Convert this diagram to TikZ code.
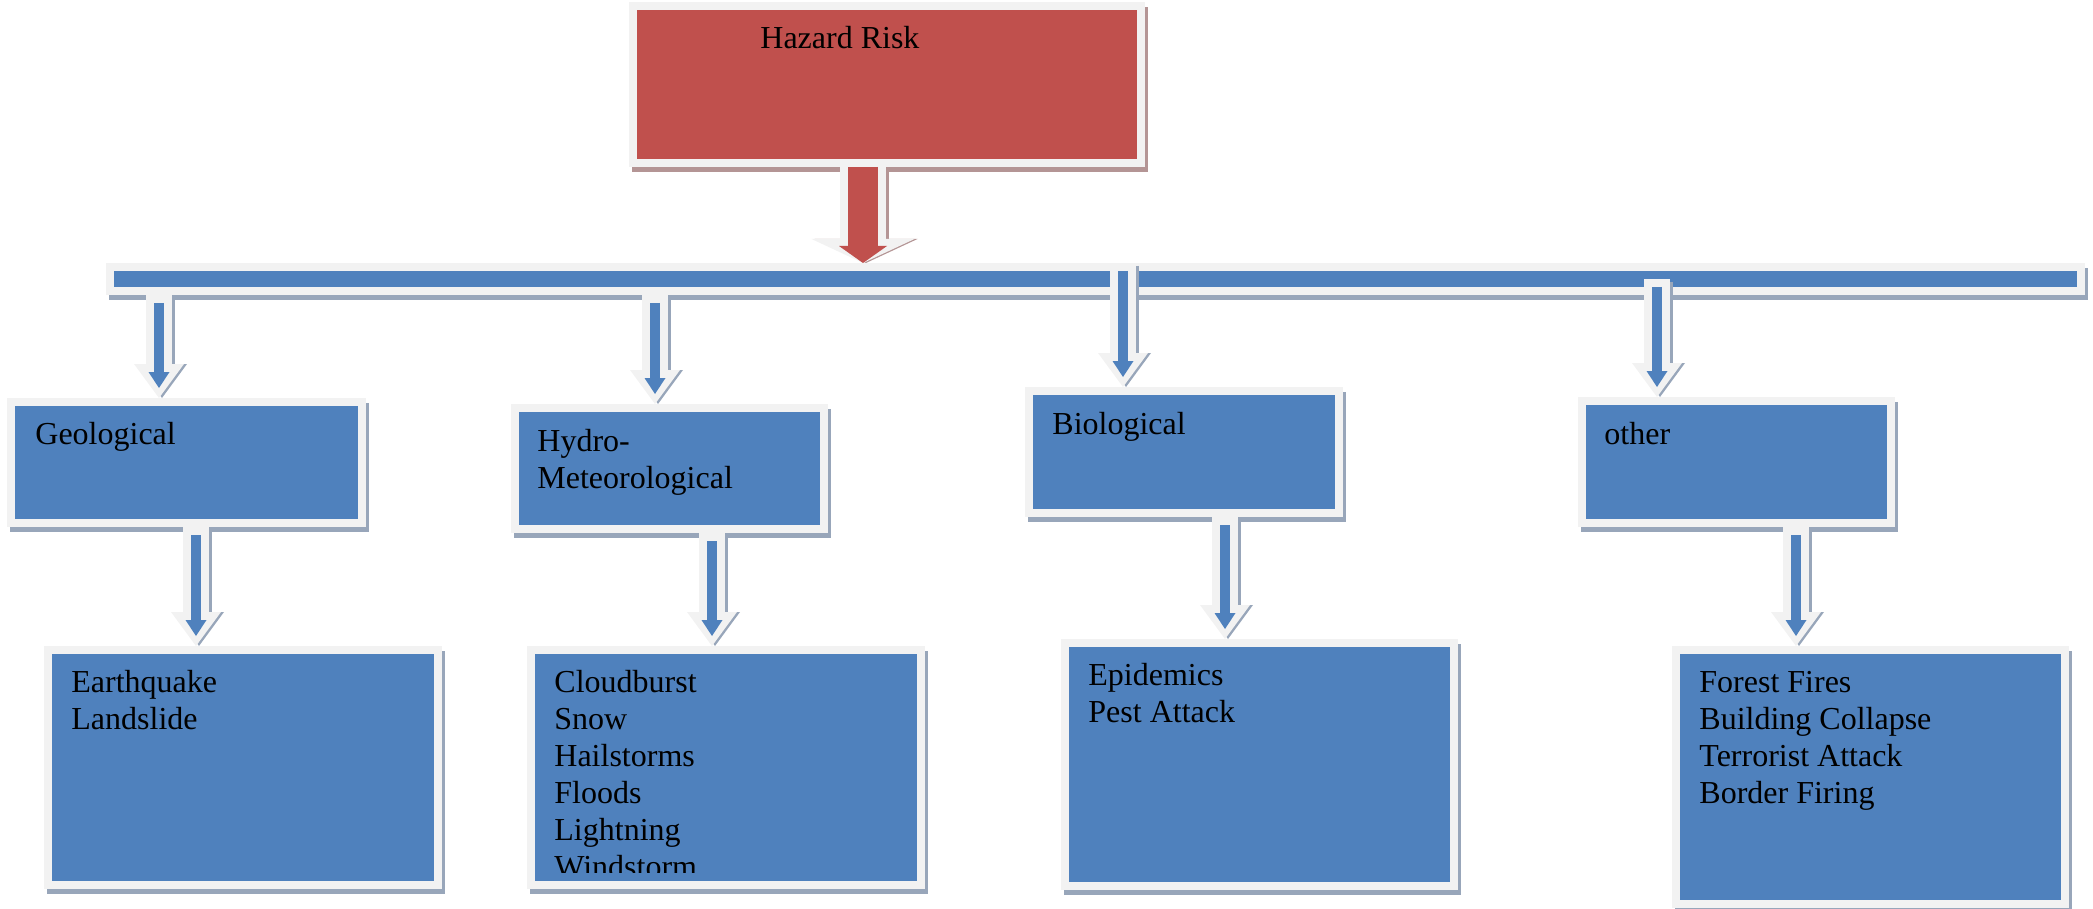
\documentclass[tikz,border=0pt]{standalone}
\usepackage{fontspec}
\setmainfont{Liberation Serif}
\usepackage{tikz}
\usetikzlibrary{arrows.meta}
\usetikzlibrary{calc}

\definecolor{HazBlue}{HTML}{4F81BD}
\definecolor{HazRed}{HTML}{C0504D}
\definecolor{FrameGray}{HTML}{F2F2F2}
\definecolor{ShadeBlue}{HTML}{98A6BA}
\definecolor{ShadeRed}{HTML}{B49595}

\tikzset{
  boxshadow/.style={preaction={draw=#1,fill=#1,transform canvas={shift={(1.5pt,-2.5pt)}}}},
  catbox/.style={rectangle,inner sep=0pt,line width=4pt,draw=FrameGray,fill=HazBlue,boxshadow=ShadeBlue},
  riskbox/.style={rectangle,inner sep=0pt,line width=4pt,draw=FrameGray,fill=HazRed,boxshadow=ShadeRed},
  lbl/.style={inner sep=0pt,anchor=base west,align=left,font=\fontsize{16}{18.5}\selectfont},
  typearrow/.style={draw=HazBlue,line width=5pt,
    -{Triangle[width=10.5pt,length=8pt,line width=0pt]},shorten <=4pt,shorten >=5pt,
    preaction={draw=ShadeBlue,line width=13pt,-{Triangle[width=25pt,length=17pt,line width=0pt]},
      shorten <=0pt,shorten >=1.5pt,transform canvas={shift={(1.5pt,-1.5pt)}}},
    preaction={draw=FrameGray,line width=13pt,-{Triangle[width=25pt,length=17pt,line width=0pt]},
      shorten <=0pt,shorten >=0pt}},
  riskarrow/.style={draw=HazRed,line width=15pt,
    -{Triangle[width=24pt,length=8.5pt,line width=0pt]},
    preaction={draw=ShadeRed,line width=23pt,-{Triangle[width=51.5pt,length=12pt,line width=0pt]},
      shorten >=1.5pt,transform canvas={shift={(1.5pt,-1.5pt)}}},
    preaction={draw=FrameGray,line width=23pt,-{Triangle[width=51.5pt,length=12pt,line width=0pt]}}}
}

\begin{document}
\begin{tikzpicture}[line cap=butt,line join=miter,x=0.5pt,y=-0.5pt]
\useasboundingbox (0,0) rectangle (2093,909);

% bus and top box
\node[catbox,minimum width=985.5pt,minimum height=12pt] (spine) at (1095.5,279) {};
\node[riskbox,minimum width=254pt,minimum height=78.5pt] (hazard) at (887,84.5) {};
\draw[riskarrow] (hazard.south -| 863,0) -- (spine.north -| 863,0);

% hazard types
\node[catbox,minimum width=175.5pt,minimum height=60.5pt] (geo) at (186.5,462.5) {};
\node[catbox,minimum width=154.5pt,minimum height=60.5pt] (hydro) at (669.5,468.5) {};
\node[catbox,minimum width=155pt,minimum height=61pt] (bio) at (1184,452) {};
\node[catbox,minimum width=154.5pt,minimum height=61pt] (other) at (1736.5,462) {};
\foreach \dst/\col/\anc in {geo/159/south,hydro/655/south,bio/1123/north,other/1657/center}
  \draw[typearrow] (spine.\anc -| \col,0) -- (\dst.north -| \col,0);

% examples
\node[catbox,minimum width=195pt,minimum height=117.5pt] (quake) at (243,767.5) {};
\node[catbox,minimum width=195pt,minimum height=117.5pt] (cloud) at (726,767.5) {};
\node[catbox,minimum width=194.5pt,minimum height=121.5pt] (epid) at (1259.5,764.5) {};
\node[catbox,minimum width=194.5pt,minimum height=127pt] (fire) at (1870.5,777) {};
\foreach \src/\dst/\col in {geo/quake/196,hydro/cloud/712,bio/epid/1225,other/fire/1796}
  \draw[typearrow] (\src.south -| \col,0) -- (\dst.north -| \col,0);

% texts (base = last line)
\node[lbl] (hazardtxt) at (760,49) {Hazard Risk};
\node[lbl] (geotxt) at (35,444) {Geological};
\node[lbl] (hydrotxt) at (537,488) {Hydro-\\Meteorological};
\node[lbl] (biotxt) at (1052,434) {Biological};
\node[lbl] (othertxt) at (1604,444) {other};
\node[lbl] (quaketxt) at (71,729) {Earthquake\\Landslide};
\begin{scope}
\clip (535,653) rectangle (917,872);
\node[lbl] (cloudtxt) at (554,877) {Cloudburst\\Snow\\Hailstorms\\Floods\\Lightning\\Windstorm};
\end{scope}
\node[lbl] (epidtxt) at (1088,722) {Epidemics\\Pest Attack};
\node[lbl] (firetxt) at (1699,803) {Forest Fires\\Building Collapse\\Terrorist Attack\\Border Firing};
\end{tikzpicture}
\end{document}
